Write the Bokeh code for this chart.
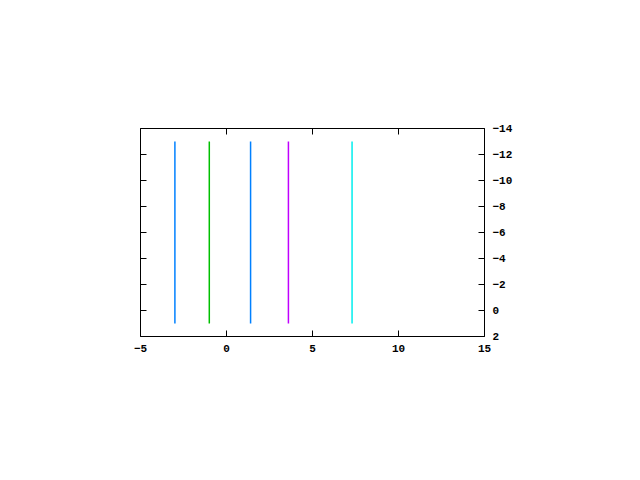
from bokeh.models import Range1d, LinearAxis, Label, BoxAnnotation, FixedTicker
from bokeh.plotting import figure
from bokeh.embed import file_html
from bokeh.resources import INLINE

# contour lines of accuracy (vertical)
levels = [87, 86.5, 86.5, 86, 85.5]
line_x = [-1, -3, 1.4, 3.6, 7.3]
y_lo = 1
y_hi = -13
level_colors = {87: "#00c000", 86.5: "#0080ff", 86: "#c000ff", 85.5: "#00eeee"}
legend_levels = ["87", "86.5", "86", "85.5"]
x_ticks = [-5, 0, 5, 10, 15]
y_ticks = list(range(-14, 3, 2))

FONT = "Liberation Mono"
FS = "11px"
OX, OY = 140, 128  # frame offset inside canvas (left, bottom)

p = figure(width=624, height=464, output_backend="svg", toolbar_location=None,
           x_range=Range1d(-5, 15), y_range=Range1d(2, -14),
           y_axis_location="right",
           min_border_left=140, min_border_right=140,
           min_border_top=128, min_border_bottom=128)
p.grid.visible = False
p.outline_line_color = "black"
p.background_fill_color = "white"

for lv, xv in zip(levels, line_x):
    p.segment(x0=[xv], y0=[y_lo], x1=[xv], y1=[y_hi], line_color=level_colors[lv], line_width=1.5)

p.xaxis.ticker = FixedTicker(ticks=x_ticks)
p.yaxis.ticker = FixedTicker(ticks=y_ticks)
for ax in [p.xaxis[0], p.yaxis[0]]:
    ax.major_tick_in = 6
    ax.major_tick_out = 0
    ax.minor_tick_in = 0
    ax.minor_tick_out = 0
    ax.axis_line_color = None
    ax.major_label_text_font = FONT
    ax.major_label_text_font_size = FS
    ax.major_label_text_font_style = "bold"
    ax.major_label_text_color = "black"
    ax.major_label_standoff = 8

top = LinearAxis(ticker=FixedTicker(ticks=x_ticks),
                 major_label_overrides={t: "" for t in x_ticks})
left = LinearAxis(ticker=FixedTicker(ticks=y_ticks),
                  major_label_overrides={t: "" for t in y_ticks})
for ax in [top, left]:
    ax.major_tick_in = 6
    ax.major_tick_out = 0
    ax.minor_tick_in = 0
    ax.minor_tick_out = 0
    ax.axis_line_color = None
p.add_layout(top, "above")
p.add_layout(left, "left")


def lab(text, x, y, align="center"):
    # x, y: canvas pixels from the bottom-left corner
    p.add_layout(Label(x=x - OX, y=y - OY, x_units="screen", y_units="screen", text=text,
                       text_font=FONT, text_font_size=FS, text_font_style="bold",
                       text_align=align, text_baseline="middle"))


lab("train_Country", 312, 445)
lab("Best log2(C) = -1  log2(gamma) = -7  accuracy = 87.0007%", 312, 399)
lab("C = 0.5  gamma = 0.0078125", 312, 375)
lab('"_-"', 549, 422)
lab("log2(gamma)", 569, 231)
lab("log2(C)", 312, 54)

for i, lv in enumerate(legend_levels):
    yy = 405 - 16 * i
    lab(lv, 560, yy, align="right")
    p.add_layout(BoxAnnotation(left=567 - OX, right=600 - OX, bottom=yy - 1 - OY, top=yy + 1 - OY,
                               left_units="screen", right_units="screen",
                               bottom_units="screen", top_units="screen",
                               fill_color=level_colors[float(lv)], fill_alpha=1,
                               line_color=None))

open("out.html", "w").write(file_html(p, INLINE))
